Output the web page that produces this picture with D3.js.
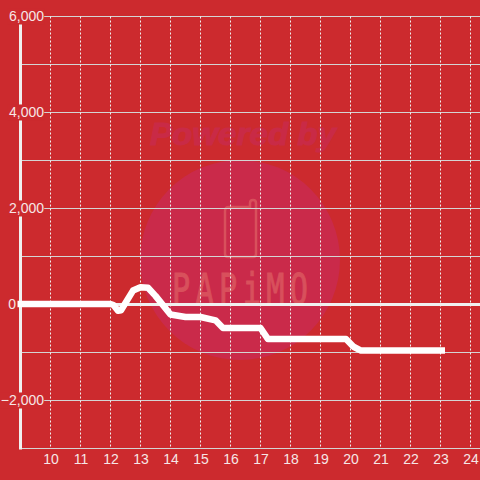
<!DOCTYPE html>
<html>
<head>
<meta charset="UTF-8">
<title>Chart</title>
<style>
html, body { margin: 0; padding: 0; background: #cc2a2e; }
svg { display: block; }
text { font-family: "Liberation Sans", Arial, sans-serif; }
.grid-h line { stroke: #d4d4d4; stroke-width: 1px; }
.grid-v line { stroke: #f0f0f0; stroke-width: 1px; stroke-dasharray: 2 2; }
.axis text { fill: #f6e6e6; font-size: 14px; }
.axis path, .axis line { display: none; }
</style>
</head>
<body>
<svg></svg>
<script src="https://d3js.org/d3.v7.min.js"></script>
<script>

var hours = [8.9, 10, 11, 12, 12.1, 12.25, 12.35, 12.75, 13, 13.25, 13.5, 14, 14.5, 15, 15.5, 15.75, 16, 17, 17.25, 18, 19, 19.85, 20.1, 20.35, 21, 22, 23, 23.15];
var values = [10, 10, 10, 10, -10, -130, -120, 290, 360, 350, 180, -210, -260, -260, -330, -490, -490, -490, -720, -720, -720, -720, -880, -960, -960, -960, -960, -960];
var xTicks = [10, 11, 12, 13, 14, 15, 16, 17, 18, 19, 20, 21, 22, 23, 24];
var yTicks = [-3000, -2000, -1000, 0, 1000, 2000, 3000, 4000, 5000, 6000];
var yLabelled = [-2000, 0, 2000, 4000, 6000];

var bg = '#cc2a2e';
var size = 480;

var x = d3.scaleLinear().domain([9, 24.3]).range([20.5, 479.5]);
var y = d3.scaleLinear().domain([-3000, 6000]).range([448.5, 16.5]);

var svg = d3.select('svg').attr('width', size).attr('height', size);

svg.append('rect').attr('width', size).attr('height', size).attr('fill', bg);

// watermark, sits under the grid
var mark = svg.append('g').attr('class', 'watermark');
mark.append('circle').attr('cx', 240).attr('cy', 260).attr('r', 100).attr('fill', '#ca2a4a');
mark.append('path')
  .attr('d', 'M229 207 H250 V203 Q250 200 253 200 Q256 200 256 203 V254 Q256 257 253 257 H228 Q225 257 225 254 V211 Q225 207 229 207 Z')
  .attr('fill', 'none').attr('stroke', '#d8505c').attr('stroke-width', 2.5);
mark.append('text')
  .attr('transform', 'translate(240,304) scale(0.72,1)')
  .attr('text-anchor', 'middle')
  .attr('textLength', 189).attr('lengthAdjust', 'spacing')
  .style('font-family', '"DejaVu Sans Mono", monospace')
  .style('font-size', '42px')
  .attr('fill', '#d8505c').attr('stroke', '#d8505c').attr('stroke-width', 1)
  .text('PAPiMO');
mark.append('text')
  .attr('x', 243).attr('y', 145).attr('text-anchor', 'middle')
  .attr('textLength', 186).attr('lengthAdjust', 'spacingAndGlyphs')
  .style('font-size', '31px').style('font-weight', 'bold').style('font-style', 'italic')
  .attr('fill', '#c92a46').attr('stroke', '#c92a46').attr('stroke-width', 1)
  .text('Powered by');

svg.append('g').attr('class', 'grid-h')
  .selectAll('line').data(yTicks).enter().append('line')
  .attr('x1', x.range()[0]).attr('x2', size)
  .attr('y1', function (d) { return y(d); })
  .attr('y2', function (d) { return y(d); });

svg.append('g').attr('class', 'grid-v')
  .selectAll('line').data(xTicks).enter().append('line')
  .attr('x1', function (d) { return x(d); })
  .attr('x2', function (d) { return x(d); })
  .attr('y1', y.range()[1]).attr('y2', y.range()[0]);

// y axis line and the zero line
svg.append('line')
  .attr('x1', x.range()[0]).attr('x2', x.range()[0])
  .attr('y1', y.range()[1]).attr('y2', y.range()[0] + 1)
  .attr('stroke', '#f0f0f0').attr('stroke-width', 3);

svg.append('line')
  .attr('x1', x.range()[0]).attr('x2', size)
  .attr('y1', y(0)).attr('y2', y(0))
  .attr('stroke', '#f0f0f0').attr('stroke-width', 3);

var yAxis = d3.axisLeft(y).tickValues(yLabelled).tickSize(0).tickPadding(0).tickFormat(d3.format(','));
var yG = svg.append('g').attr('class', 'axis')
  .attr('transform', 'translate(44,0)')
  .call(yAxis);

// labels knock a box out of the axis line behind them
yG.selectAll('.tick').filter(function (d) { return d !== 0; }).each(function () {
  var t = d3.select(this).select('text');
  var b = t.node().getBBox();
  d3.select(this).insert('rect', 'text')
    .attr('x', b.x - 1).attr('y', b.y).attr('width', b.width + 1).attr('height', b.height)
    .attr('fill', bg);
});
yG.selectAll('.tick').filter(function (d) { return d === 0; }).select('text').attr('x', -28);

var xAxis = d3.axisBottom(x).tickValues(xTicks).tickSize(0).tickPadding(0).tickFormat(d3.format('d'));
svg.append('g').attr('class', 'axis')
  .attr('transform', 'translate(0,' + (y.range()[0] + 6) + ')')
  .call(xAxis);

var line = d3.line()
  .x(function (d) { return x(d[0]); })
  .y(function (d) { return y(d[1]); });

svg.append('path')
  .datum(d3.zip(hours, values))
  .attr('d', line)
  .attr('fill', 'none')
  .attr('stroke', '#ffffff')
  .attr('stroke-width', 6.5)
  .attr('stroke-linejoin', 'round');

</script>
</body>
</html>
